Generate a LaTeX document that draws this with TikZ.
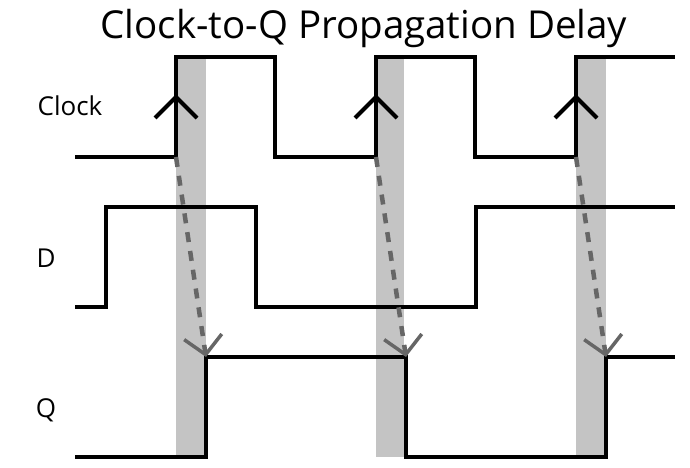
\documentclass[tikz,border=0pt]{standalone}
\usepackage{fontspec}
\setmainfont{Open Sans}
\usetikzlibrary{arrows.meta}
\definecolor{bargray}{HTML}{C4C4C4}
\definecolor{arrgray}{HTML}{666666}
\begin{document}
\begin{tikzpicture}[x=1pt,y=-1pt,
  sig/.style={line width=4pt, line join=miter, black},
  bar/.style={fill=bargray, draw=none},
  edge/.style={line width=4pt, line join=miter, black},
  delay/.style={draw=arrgray, line width=4.5pt, dash pattern=on 10pt off 9pt,
    -{Straight Barb[length=18pt,width=38pt,line width=3.5pt]}},
  lbl/.style={font=\fontsize{26}{30}\selectfont, anchor=base, inner sep=0pt},
  ttl/.style={font=\fontsize{38.5}{44}\selectfont, anchor=base, inner sep=0pt}]
\useasboundingbox (0,0) rectangle (690,468);
% shaded delay bars
\fill[bar] (176,57) rectangle (206,457);
\fill[bar] (376,57) rectangle (404,457);
\fill[bar] (576,57) rectangle (606,457);
% named edge points
\coordinate (c1) at (176,157);
\coordinate (c2) at (376,157);
\coordinate (c3) at (576,157);
\coordinate (q1) at (206,357);
\coordinate (q2) at (406,357);
\coordinate (q3) at (606,357);
% signals
\draw[sig] (75,157) -- (176,157) -- (176,57) -- (275,57) -- (275,157) -- (376,157) -- (376,57) -- (475,57) -- (475,157) -- (576,157) -- (576,57) -- (675,57);
\draw[sig] (75,307) -- (106,307) -- (106,207) -- (256,207) -- (256,307) -- (476,307) -- (476,207) -- (675,207);
\draw[sig] (75,457) -- (206,457) -- (206,357) -- (406,357) -- (406,457) -- (606,457) -- (606,357) -- (675,357);
% rising edge markers
\foreach \x in {176,376,576}
  \draw[edge] (\x-21,118) -- (\x,97) -- (\x+21,118);
% delay arrows
\draw[delay] (c1) -- (q1);
\draw[delay] (c2) -- (q2);
\draw[delay] (c3) -- (q3);
% labels
\node[ttl] (title) at (364,39) {Clock-to-Q Propagation Delay};
\node[lbl] (lclk) at (70,116) {Clock};
\node[lbl] (ld) at (46,267) {D};
\node[lbl] (lq) at (46,417) {Q};
\end{tikzpicture}
\end{document}
